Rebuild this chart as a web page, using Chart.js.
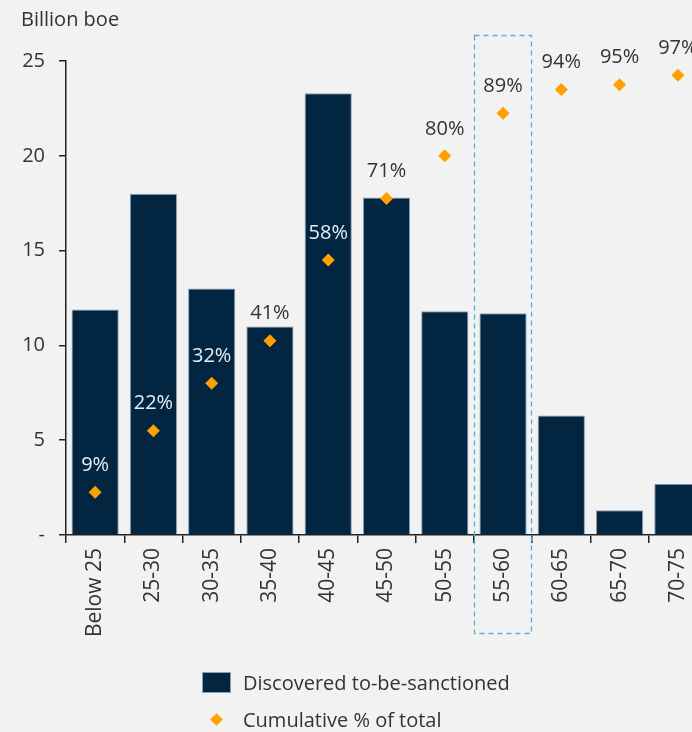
<!DOCTYPE html>
<html>
<head>
<meta charset="utf-8">
<script src="https://cdn.jsdelivr.net/npm/chart.js@4"></script>
<style>
  html, body { margin: 0; padding: 0; background: #f2f2f2; }
  body { width: 692px; height: 732px; overflow: hidden; position: relative;
         font-family: "Open Sans", sans-serif; color: #333; }
  #wrap { position: absolute; left: 0; top: 0; width: 724px; height: 732px; }
  .txt { position: absolute; font-size: 20px; line-height: 24px; white-space: nowrap; color: #333; }
  .swatch { position: absolute; background: #022541; border: 1px solid #8ea0b0; box-sizing: border-box; }
  .diam { position: absolute; width: 9px; height: 9px; background: #ffa000; transform: rotate(45deg); }
</style>
</head>
<body>
<div id="wrap"><canvas id="c" width="724" height="732"></canvas></div>
<div class="txt" style="left:21px; top:7px;">Billion boe</div>
<div class="swatch" style="left:202px; top:672px; width:29px; height:21px;"></div>
<div class="txt" style="left:243px; top:671px;">Discovered to-be-sanctioned</div>
<div class="diam" style="left:212px; top:715px;"></div>
<div class="txt" style="left:243px; top:708px;">Cumulative % of total</div>
<script>
// Breakeven price bands (USD/bbl)
const categories = ['Below 25', '25-30', '30-35', '35-40', '40-45', '45-50',
                    '50-55', '55-60', '60-65', '65-70', '70-75'];
// Discovered to-be-sanctioned resources, billion boe
const volumes = [11.9, 18.0, 13.0, 11.0, 23.3, 17.8, 11.8, 11.7, 6.3, 1.3, 2.7];
// Cumulative share of total, percent
const cumulativePct = [9, 22, 32, 41, 58, 71, 80, 89, 94, 95, 97];
// Left axis ticks
const yTicks = [0, 5, 10, 15, 20, 25];
// Highlighted band
const highlightIndex = 7;

const FONT = '"Open Sans", sans-serif';
const TEXT = '#333333';
const AXIS = '#222222';

const pctLabels = {
  id: 'pctLabels',
  afterDatasetsDraw(chart) {
    const ctx = chart.ctx;
    const pts = chart.getDatasetMeta(1).data;
    const bars = chart.getDatasetMeta(0).data;
    ctx.save();
    ctx.font = '20px ' + FONT;
    ctx.textAlign = 'center';
    ctx.textBaseline = 'middle';
    pts.forEach((p, i) => {
      const y = p.y - 27;
      ctx.fillStyle = y > bars[i].y + 4 ? '#e9eef2' : TEXT;
      ctx.fillText(cumulativePct[i] + '%', p.x, y);
    });
    ctx.restore();
  }
};

const highlightBox = {
  id: 'highlightBox',
  afterDraw(chart) {
    const x = chart.scales.x;
    const step = (x.right - x.left) / categories.length;
    const cx = x.getPixelForValue(highlightIndex);
    const ctx = chart.ctx;
    ctx.save();
    ctx.strokeStyle = '#4fb3d8';
    ctx.lineWidth = 1.3;
    ctx.setLineDash([5, 4]);
    ctx.strokeRect(Math.round(cx - step / 2) + 0.5, 35.5, Math.round(step) - 1, 598);
    ctx.restore();
  }
};

new Chart(document.getElementById('c'), {
  data: {
    labels: categories,
    datasets: [
      {
        type: 'bar',
        label: 'Discovered to-be-sanctioned',
        data: volumes,
        backgroundColor: '#022541',
        borderColor: '#8ea0b0',
        borderWidth: 1,
        barPercentage: 0.81,
        categoryPercentage: 1,
        yAxisID: 'y',
        order: 2
      },
      {
        type: 'scatter',
        label: 'Cumulative % of total',
        data: cumulativePct,
        pointStyle: 'rectRot',
        pointRadius: 6.5,
        pointBackgroundColor: '#ffa000',
        pointBorderWidth: 0,
        showLine: false,
        yAxisID: 'y1',
        order: 1
      }
    ]
  },
  options: {
    responsive: false,
    animation: false,
    layout: { padding: { left: 0, top: 61, right: 17, bottom: 0 } },
    plugins: { legend: { display: false }, tooltip: { enabled: false } },
    scales: {
      x: {
        type: 'category',
        offset: true,
        grid: { display: true, offset: true, drawOnChartArea: false, drawTicks: true,
                tickLength: 8, color: AXIS, lineWidth: 1.5 },
        border: { display: true, color: AXIS, width: 1.5 },
        ticks: { color: TEXT, font: { family: FONT, size: 21 }, minRotation: 90, maxRotation: 90,
                 padding: 5, autoSkip: false },
        afterFit(s) { s.height = 732 - 535; }
      },
      y: {
        position: 'left',
        min: 0, max: 25,
        afterBuildTicks(s) { s.ticks = yTicks.map(v => ({ value: v })); },
        grid: { display: true, drawOnChartArea: false, drawTicks: true, tickLength: 7,
                color: AXIS, lineWidth: 1.5 },
        border: { display: true, color: AXIS, width: 1.5 },
        ticks: { color: TEXT, font: { family: FONT, size: 20 }, padding: 14,
                 callback: v => (v === 0 ? '-' : v) },
        afterFit(s) { s.width = 66; }
      },
      y1: {
        display: false,
        min: 0, max: 100
      }
    }
  },
  plugins: [pctLabels, highlightBox]
});
</script>
</body>
</html>
